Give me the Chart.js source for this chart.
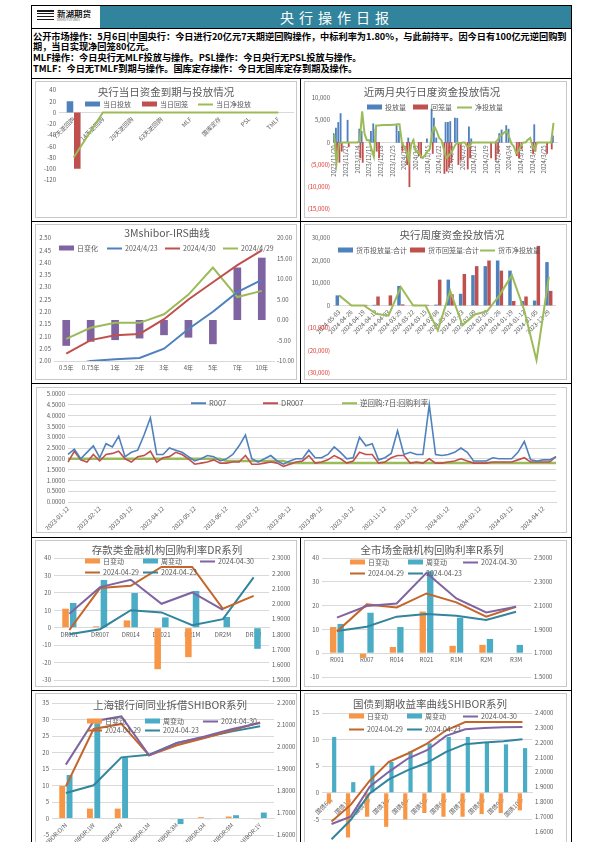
<!DOCTYPE html>
<html lang="zh">
<head>
<meta charset="UTF-8">
<title>央行操作日报</title>
<script src="https://cdn.jsdelivr.net/npm/chart.js@4.4.0/dist/chart.umd.min.js"></script>
<style>
  body { margin:0; width:595px; height:842px; position:relative; overflow:hidden; background:#fff;
         font-family:"Noto Sans CJK SC", "Noto Sans", sans-serif; }
  .abs { position:absolute; }
  .bl { position:absolute; background:#000; }
  .box { position:absolute; border:1px solid #c8c8c8; box-sizing:border-box; }
  .cv { position:absolute; }
  .ttl { position:absolute; transform:translate(-50%,-50%); font-size:10.5px; color:#595959; white-space:nowrap; line-height:1; }
  .lg { position:absolute; transform:translateY(-50%); font-size:7px; color:#595959; white-space:nowrap;
        line-height:1; display:flex; align-items:center; }
  .lg i { display:inline-block; width:15px; margin-right:3px; }
  .bx { height:5px; }
  .ln { height:2px; }
</style>
</head>
<body>

<!-- frame and header -->
<div class="abs" style="left:31px;top:5px;width:541px;height:850px;border:1px solid #000;box-sizing:border-box"></div>
<div class="abs" style="left:100px;top:6px;width:471px;height:22px;background:#31849B"></div>
<div class="abs" style="left:337px;top:17px;transform:translate(-50%,-50%);color:#fff;font-size:14px;letter-spacing:5px;line-height:1;white-space:nowrap">央行操作日报</div>
<div class="abs" style="left:37px;top:10px;width:17px;height:12px;background:repeating-linear-gradient(#1a1a1a 0 1.5px,#fff 1.5px 3px)"></div>
<div class="abs" style="left:57px;top:9px;font-size:8.5px;font-weight:bold;color:#1a1a1a;line-height:1;white-space:nowrap">新湖期货</div>
<div class="abs" style="left:57px;top:19px;font-size:3px;color:#555;line-height:1;white-space:nowrap">XINHU FUTURES</div>
<div class="bl" style="left:31px;top:28px;width:541px;height:1px"></div>

<!-- text -->
<div class="abs" style="left:33px;top:30.5px;font-size:9.2px;line-height:10.7px;font-weight:bold;color:#000;white-space:nowrap">公开市场操作：5月6日|中国央行：今日进行20亿元7天期逆回购操作，中标利率为1.80%，与此前持平。因今日有100亿元逆回购到<br>期，当日实现净回笼80亿元。<br>MLF操作：今日央行无MLF投放与操作。PSL操作：今日央行无PSL投放与操作。<br>TMLF：今日无TMLF到期与操作。国库定存操作：今日无国库定存到期及操作。</div>

<!-- grid lines -->
<div class="bl" style="left:31px;top:78px;width:541px;height:1px"></div>
<div class="bl" style="left:31px;top:221px;width:541px;height:1px"></div>
<div class="bl" style="left:31px;top:383px;width:541px;height:1px"></div>
<div class="bl" style="left:31px;top:537px;width:541px;height:1px"></div>
<div class="bl" style="left:31px;top:690px;width:541px;height:1px"></div>
<div class="bl" style="left:300px;top:78px;width:1px;height:305px"></div>
<div class="bl" style="left:300px;top:537px;width:1px;height:310px"></div>

<!-- chart boxes -->
<div class="box" style="left:35px;top:81px;width:262px;height:137px"></div>
<div class="box" style="left:304px;top:81px;width:263px;height:137px"></div>
<div class="box" style="left:35px;top:224px;width:262px;height:156px"></div>
<div class="box" style="left:304px;top:224px;width:263px;height:156px"></div>
<div class="box" style="left:36px;top:387px;width:531px;height:146px"></div>
<div class="box" style="left:35px;top:540px;width:262px;height:147px"></div>
<div class="box" style="left:304px;top:540px;width:263px;height:147px"></div>
<div class="box" style="left:35px;top:693px;width:262px;height:160px"></div>
<div class="box" style="left:304px;top:693px;width:263px;height:160px"></div>

<div class="cv" style="left:35px;top:81px;width:262px;height:137px"><canvas id="cToday"></canvas></div>
<div class="cv" style="left:304px;top:81px;width:263px;height:137px"><canvas id="cDaily"></canvas></div>
<div class="cv" style="left:35px;top:224px;width:262px;height:156px"><canvas id="cIrs"></canvas></div>
<div class="cv" style="left:304px;top:224px;width:263px;height:156px"><canvas id="cWeek"></canvas></div>
<div class="cv" style="left:36px;top:387px;width:531px;height:146px"><canvas id="cRepo"></canvas></div>
<div class="cv" style="left:35px;top:540px;width:262px;height:147px"><canvas id="cDr"></canvas></div>
<div class="cv" style="left:304px;top:540px;width:263px;height:147px"><canvas id="cR"></canvas></div>
<div class="cv" style="left:35px;top:693px;width:262px;height:152px"><canvas id="cShibor"></canvas></div>
<div class="cv" style="left:304px;top:693px;width:263px;height:160px"><canvas id="cGov"></canvas></div>

<!-- titles -->
<div class="ttl" style="left:166px;top:92px">央行当日资金到期与投放情况</div>
<div class="ttl" style="left:432px;top:92px">近两月央行日度资金投放情况</div>
<div class="ttl" style="left:167px;top:233px">3Mshibor-IRS曲线</div>
<div class="ttl" style="left:452px;top:235px">央行周度资金投放情况</div>
<div class="ttl" style="left:167px;top:550px">存款类金融机构回购利率DR系列</div>
<div class="ttl" style="left:432px;top:550px">全市场金融机构回购利率R系列</div>
<div class="ttl" style="left:170px;top:705px">上海银行间同业拆借SHIBOR系列</div>
<div class="ttl" style="left:430px;top:704px">国债到期收益率曲线SHIBOR系列</div>

<!-- legends -->
<div class="lg" style="left:85px;top:104px"><i class="bx" style="background:#4F81BD"></i>当日投放</div>
<div class="lg" style="left:142px;top:104px"><i class="bx" style="background:#C0504D"></i>当日回笼</div>
<div class="lg" style="left:198px;top:104px"><i class="ln" style="background:#9BBB59"></i>当日净投放</div>

<div class="lg" style="left:367px;top:107px"><i class="bx" style="background:#4F81BD"></i>投放量</div>
<div class="lg" style="left:413px;top:107px"><i class="bx" style="background:#C0504D"></i>回笼量</div>
<div class="lg" style="left:457px;top:107px"><i class="ln" style="background:#9BBB59"></i>净投放量</div>

<div class="lg" style="left:59px;top:248px"><i class="bx" style="background:#8064A2"></i>日变化</div>
<div class="lg" style="left:107px;top:248px"><i class="ln" style="background:#4F81BD"></i>2024/4/23</div>
<div class="lg" style="left:165px;top:248px"><i class="ln" style="background:#C0504D"></i>2024/4/30</div>
<div class="lg" style="left:223px;top:248px"><i class="ln" style="background:#9BBB59"></i>2024/4/29</div>

<div class="lg" style="left:338px;top:250px"><i class="bx" style="background:#4F81BD"></i>货币投放量:合计</div>
<div class="lg" style="left:410px;top:250px"><i class="bx" style="background:#C0504D"></i>货币回笼量:合计</div>
<div class="lg" style="left:480px;top:250px"><i class="ln" style="background:#9BBB59"></i>货币净投放量</div>

<div class="lg" style="left:191px;top:403px;font-size:7.5px"><i class="ln" style="background:#4F81BD"></i>R007</div>
<div class="lg" style="left:263px;top:403px;font-size:7.5px"><i class="ln" style="background:#C0504D"></i>DR007</div>
<div class="lg" style="left:342px;top:403px;font-size:7.5px"><i class="ln" style="background:#9BBB59"></i>逆回购:7日:回购利率</div>

<div class="lg" style="left:85px;top:561px"><i class="bx" style="background:#F79646"></i>日变动</div>
<div class="lg" style="left:143px;top:561px"><i class="bx" style="background:#4BACC6"></i>周变动</div>
<div class="lg" style="left:200px;top:561px"><i class="ln" style="background:#8064A2"></i>2024-04-30</div>
<div class="lg" style="left:85px;top:572px"><i class="ln" style="background:#C4652A"></i>2024-04-29</div>
<div class="lg" style="left:143px;top:572px"><i class="ln" style="background:#31859C"></i>2024-04-23</div>

<div class="lg" style="left:350px;top:562px"><i class="bx" style="background:#F79646"></i>日变动</div>
<div class="lg" style="left:408px;top:562px"><i class="bx" style="background:#4BACC6"></i>周变动</div>
<div class="lg" style="left:463px;top:562px"><i class="ln" style="background:#8064A2"></i>2024-04-30</div>
<div class="lg" style="left:350px;top:573px"><i class="ln" style="background:#C4652A"></i>2024-04-29</div>
<div class="lg" style="left:408px;top:573px"><i class="ln" style="background:#31859C"></i>2024-04-23</div>

<div class="lg" style="left:87px;top:721px"><i class="bx" style="background:#F79646"></i>日变动</div>
<div class="lg" style="left:145px;top:721px"><i class="bx" style="background:#4BACC6"></i>周变动</div>
<div class="lg" style="left:203px;top:721px"><i class="ln" style="background:#8064A2"></i>2024-04-30</div>
<div class="lg" style="left:87px;top:730px"><i class="ln" style="background:#C4652A"></i>2024-04-29</div>
<div class="lg" style="left:145px;top:730px"><i class="ln" style="background:#31859C"></i>2024-04-23</div>

<div class="lg" style="left:349px;top:716px"><i class="bx" style="background:#F79646"></i>日变动</div>
<div class="lg" style="left:407px;top:716px"><i class="bx" style="background:#4BACC6"></i>周变动</div>
<div class="lg" style="left:463px;top:716px"><i class="ln" style="background:#8064A2"></i>2024-04-30</div>
<div class="lg" style="left:349px;top:729px"><i class="ln" style="background:#C4652A"></i>2024-04-29</div>
<div class="lg" style="left:407px;top:729px"><i class="ln" style="background:#31859C"></i>2024-04-23</div>

<script>
// ---------- data ----------
// 央行当日资金到期与投放情况
const todayCats = ['7天逆回购', '14天逆回购', '28天逆回购', '63天逆回购', 'MLF', '国库定存', 'PSL', 'TMLF'];
const todayInject = [20, 0, 0, 0, 0, 0, 0, 0];
const todayDrain = [-100, 0, 0, 0, 0, 0, 0, 0];
const todayNet = [-80, 0, 0, 0, 0, 0, 0, 0];

// 近两月央行日度资金投放情况 (weekdays, 5 per week)
const dailyWeeks = ['2023/11/20', '2023/11/27', '2023/12/4', '2023/12/11', '2023/12/18', '2023/12/25', '2024/1/1',
  '2024/1/8', '2024/1/15', '2024/1/22', '2024/1/29', '2024/2/5', '2024/2/12', '2024/2/19', '2024/2/26',
  '2024/3/4', '2024/3/11', '2024/3/18', '2024/3/25'];
const dailyInject = [
  2000, 3200, 4500, 6500, null, null, 5000, null, null, null,
  null, 3000, 2500, null, null, null, 2500, 4200, 3000, null,
  null, null, null, null, null, null, null, 3800, 2500, null,
  null, null, 1000, null, 500, null, null, null, null, null,
  800, null, 7500, 5500, 1000, null, null, null, 4500, 4500,
  4700, null, 5500, 5400, null, null, null, null, 3500, 800,
  null, null, null, null, null, null, null, null, null, null,
  null, 2000, 2800, null, 3800, 3000, null, null, null, null,
  null, null, null, null, null, null, 4000, null, null, null,
  null, null, null, null, 1500, 2500];
const dailyDrain = [
  null, -3000, -4500, -2000, null, null, -1000, null, null, null,
  null, -3500, -4500, null, null, null, null, null, -2000, -3500,
  null, null, null, null, null, null, null, null, null, -2000,
  null, -5000, -10000, null, null, null, -3000, -3500, null, null,
  null, null, -2500, null, null, null, null, -7000, -6500, -5500,
  -4500, null, null, -5000, -4000, null, null, -6000, -3500, null,
  null, null, null, null, null, null, null, -3500, null, -4000,
  -2500, null, null, null, null, null, null, null, -3000, -3500,
  -1500, null, null, null, null, -2500, -2000, null, null, null,
  null, -2500, null, -1500, null, null];
const dailyNet = [
  1700, -4700, -500, 0, 0, 0, 0, 0, 0, 0,
  0, 500, 7000, 2000, 500, 500, -1500, -3200, 3800, 3800,
  3850, 3900, 3900, 3900, 3900, 3950, 4000, 4100, 4100, 0,
  -1000, -2000, -4300, -500, 500, -2200, -2000, -3000, -3500, -2800,
  -2000, -1500, 2200, 3500, 2500, 1000, 500, -1500, -3500, -3000,
  -2500, -1500, -500, 0, -300, 0, 0, -900, -900, 0,
  0, 0, 0, 0, 0, 0, 0, 0, 0, 0,
  500, 1400, 1800, 2300, 2500, 1200, -300, -900, -2400, -2000,
  -800, 0, 0, 600, 1000, -800, -1700, 0, 0, 0,
  0, 0, 0, 0, 4400, 0];

// 3Mshibor-IRS曲线
const irsTenors = ['0.5年', '0.75年', '1年', '2年', '3年', '4年', '5年', '7年', '10年'];
const irsChange = [-6.3, -5.3, -4.9, -4.5, -3.7, -4.3, -5.9, 12.8, 15.2];
const irs0423 = [1.98, 2.00, 2.007, 2.012, 2.05, 2.13, 2.20, 2.28, 2.33];
const irs0430 = [2.03, 2.085, 2.105, 2.11, 2.17, 2.25, 2.32, 2.39, 2.45];
const irs0429 = [2.09, 2.135, 2.155, 2.155, 2.19, 2.27, 2.38, 2.26, 2.285];

// 央行周度资金投放情况
const weekDates = ['2024-05-03', '2024-04-26', '2024-04-19', '2024-04-12', '2024-04-03', '2024-03-29', '2024-03-22',
  '2024-03-15', '2024-03-08', '2024-03-01', '2024-02-23', '2024-02-09', '2024-02-02', '2024-01-26', '2024-01-19',
  '2024-01-12', '2024-01-05', '2023-12-29'];
const weekInject = [4500, 0, 0, 300, 0, 8700, 0, 0, 400, 11500, 5200, 13500, 17500, 20000, 15500, 2000, 2200, 19300];
const weekDrain = [0, 0, 300, 4000, 4500, 500, 300, 300, 11500, 5000, 14000, 17500, 20000, 15500, 2000, 4000, 26500, 6500];
const weekNet = [4500, 0, 0, -3700, -4500, 8200, 0, 0, -11000, 6500, -8800, -4000, -2500, 4500, 13500, -2000, -24300, 12800];

// R007 / DR007 / 逆回购7日 (about 5 points per month)
const repoMonths = ['2023-01-12', '2023-02-12', '2023-03-12', '2023-04-12', '2023-05-12', '2023-06-12', '2023-07-12',
  '2023-08-12', '2023-09-12', '2023-10-12', '2023-11-12', '2023-12-12', '2024-01-12', '2024-02-12', '2024-03-12',
  '2024-04-12'];
const r007 = [
  2.20, 2.45, 2.00, 2.30, 2.60,
  2.05, 2.70, 2.55, 3.05, 2.10,
  2.30, 2.40, 3.10, 3.90, 2.20,
  2.20, 2.50, 2.40, 2.30, 2.10,
  1.90, 2.00, 2.15, 2.10, 1.90,
  2.00, 2.20, 2.60, 3.10, 2.00,
  1.85, 2.00, 2.15, 1.90, 1.75,
  1.90, 2.00, 2.00, 2.40, 2.05,
  2.05, 2.20, 2.55, 2.30, 2.00,
  2.05, 3.00, 2.60, 2.70, 1.95,
  2.05, 2.25, 3.30, 2.20, 2.30,
  2.20, 2.20, 4.50, 2.20, 2.15,
  2.20, 2.30, 2.50, 2.30, 1.90,
  1.90, 1.90, 2.05, 2.00, 2.00,
  2.00, 2.30, 2.80, 1.95, 1.90,
  1.95, 1.95, 2.10];
const dr007 = [
  1.85, 2.35, 1.95, 1.85, 2.20,
  1.90, 2.20, 2.25, 2.35, 2.00,
  1.85, 2.10, 2.15, 2.35, 1.85,
  2.05, 2.10, 2.30, 2.20, 2.00,
  1.75, 1.80, 1.85, 1.95, 1.80,
  1.80, 1.85, 1.85, 2.15, 1.75,
  1.75, 1.80, 1.85, 1.80, 1.65,
  1.75, 1.85, 1.90, 2.15, 1.80,
  1.85, 1.95, 2.15, 2.00, 1.80,
  1.90, 2.30, 2.20, 2.20, 1.80,
  1.85, 2.05, 2.15, 2.15, 1.80,
  1.85, 1.80, 2.00, 1.80, 1.80,
  1.85, 1.90, 2.00, 1.90, 1.80,
  1.80, 1.80, 1.85, 1.85, 1.85,
  1.85, 1.95, 2.05, 1.85, 1.85,
  1.85, 1.85, 2.10];
const rr7 = [
  2.0, 2.0, 2.0, 2.0, 2.0,
  2.0, 2.0, 2.0, 2.0, 2.0,
  2.0, 2.0, 2.0, 2.0, 2.0,
  2.0, 2.0, 2.0, 2.0, 2.0,
  2.0, 2.0, 2.0, 2.0, 2.0,
  1.9, 1.9, 1.9, 1.9, 1.9,
  1.9, 1.9, 1.9, 1.9, 1.9,
  1.8, 1.8, 1.8, 1.8, 1.8,
  1.8, 1.8, 1.8, 1.8, 1.8,
  1.8, 1.8, 1.8, 1.8, 1.8,
  1.8, 1.8, 1.8, 1.8, 1.8,
  1.8, 1.8, 1.8, 1.8, 1.8,
  1.8, 1.8, 1.8, 1.8, 1.8,
  1.8, 1.8, 1.8, 1.8, 1.8,
  1.8, 1.8, 1.8, 1.8, 1.8,
  1.8, 1.8, 1.8];

// DR系列
const drCats = ['DR001', 'DR007', 'DR014', 'DR021', 'DR1M', 'DR2M', 'DR3M'];
const drDay = [10.9, 0.8, 4.2, -23.8, -16.9, 0, 0];
const drWeek = [14.2, 27.4, 19.9, 5.9, 21.1, 6.2, -12.1];
const dr0430 = [1.934, 2.109, 2.157, 2.0, 2.074, 1.96, null];
const dr0429 = [1.828, 2.103, 2.118, 2.241, 2.241, 1.967, 2.052];
const dr0423 = [1.80, 1.833, 1.958, 1.943, 1.859, 1.899, 2.173];

// R系列
const rCats = ['R001', 'R007', 'R014', 'R021', 'R1M', 'R2M', 'R3M'];
const rDay = [11.0, -1.9, 2.6, 17.5, 3.1, 3.5, 0];
const rWeek = [12.3, 17.0, 11.0, 34.4, 14.9, 6.0, 3.5];
const r0430 = [1.999, 2.096, 2.118, 2.375, 2.16, 2.043, 2.09];
const r0429 = [1.882, 2.11, 2.085, 2.202, 2.127, 2.007, 2.09];
const r0423 = [1.887, 1.923, 2.007, 2.029, 2.015, 1.979, 2.049];

// SHIBOR系列
const shCats = ['SHIBOR:O/N', 'SHIBOR:1W', 'SHIBOR:2W', 'SHIBOR:1M', 'SHIBOR:3M', 'SHIBOR:6M', 'SHIBOR:9M', 'SHIBOR:1Y'];
const shDay = [9.9, 3.0, 3.0, -0.2, -0.2, 0.4, 0.6, -0.2];
const shWeek = [13.2, 28.9, 18.5, 0, -1.7, -0.2, 1.0, 1.8];
const sh0430 = [1.92, 2.117, 2.139, 1.962, 2.018, 2.048, 2.082, 2.109];
const sh0429 = [1.821, 2.082, 2.105, 1.962, 2.008, 2.041, 2.076, 2.112];
const sh0423 = [1.791, 1.826, 1.953, 1.965, 2.018, 2.044, 2.071, 2.094];

// 国债到期收益率
const govCats = ['国债6月', '国债1年', '国债2年', '国债3年', '国债4年', '国债5年', '国债6年', '国债7年', '国债8年', '国债9年', '国债10年'];
const govDay = [-2.0, -8.4, -4.5, -6.4, -5.0, -3.8, -4.5, -4.5, -4.0, -3.8, -3.3];
const govWeek = [10.5, 2.0, 5.1, 5.8, 7.8, 9.3, 10.5, 10.5, 9.5, 9.1, 8.4];
const gov0430 = [1.649, 1.699, 1.901, 2.002, 2.092, 2.148, 2.245, 2.29, 2.299, 2.303, 2.306];
const gov0429 = [1.665, 1.778, 1.942, 2.07, 2.126, 2.193, 2.283, 2.339, 2.339, 2.339, 2.339];
const gov0423 = [1.546, 1.676, 1.856, 1.951, 2.013, 2.063, 2.137, 2.189, 2.20, 2.209, 2.222];

// ---------- helpers ----------
const GRAY = '#595959', GRID = '#d9d9d9';
const BLUE = '#4F81BD', RED = '#C0504D', GREEN = '#9BBB59', PURPLE = '#8064A2';
const ORANGE = '#F79646', AQUA = '#4BACC6', BROWN = '#C4652A', TEAL = '#31859C';

Chart.defaults.font.family = '"Noto Sans CJK SC", "Noto Sans", sans-serif';
Chart.defaults.font.size = 6;
Chart.defaults.color = GRAY;

// fixed axis sizes so the plot areas land where the reference has them
function fixY(w) { return s => { s.width = w; s.paddingTop = 0; s.paddingBottom = 0; }; }
function fixX(h) { return s => { s.height = h; s.paddingLeft = 0; s.paddingRight = 0; }; }

const int = v => v;
const dec = n => v => Number(v).toFixed(n);
const fmtK = v => v < 0 ? '(' + (-v).toLocaleString('en-US') + ')' : v.toLocaleString('en-US');
const redNeg = c => (c.tick && c.tick.value < 0) ? '#E0342B' : GRAY;

function valueAxis(pos, min, max, step, width, fmt, grid) {
  return {
    position: pos, min: min, max: max, afterFit: fixY(width),
    border: { display: false },
    grid: { display: !!grid, color: GRID, drawTicks: false },
    ticks: { stepSize: step, padding: 3, callback: fmt }
  };
}
function catAxis(pos, height, rot) {
  return {
    position: pos, afterFit: fixX(height),
    border: { display: true, color: GRID },
    grid: { display: false, drawTicks: false },
    ticks: { autoSkip: false, minRotation: rot, maxRotation: rot, padding: 3 }
  };
}
function bar(label, data, color, axis) {
  return { type: 'bar', label: label, data: data, backgroundColor: color, yAxisID: axis || 'y', order: 2 };
}
function line(label, data, color, axis, width) {
  return { type: 'line', label: label, data: data, borderColor: color, backgroundColor: color,
           borderWidth: width || 2, pointRadius: 0, tension: 0, yAxisID: axis || 'y', order: 1 };
}
function draw(id, labels, datasets, scales, padding, barOpts) {
  return new Chart(document.getElementById(id), {
    type: 'bar',
    data: { labels: labels, datasets: datasets },
    options: {
      animation: false, responsive: true, maintainAspectRatio: false,
      layout: { padding: padding },
      datasets: { bar: barOpts || {} },
      plugins: { legend: { display: false }, tooltip: { enabled: false } },
      scales: scales
    }
  });
}

// ---------- charts ----------
draw('cToday', todayCats,
  [bar('当日投放', todayInject, BLUE), bar('当日回笼', todayDrain, RED), line('当日净投放', todayNet, GREEN)],
  { x: catAxis({ y: 0 }, 0, 45), y: valueAxis('left', -120, 40, 20, 20, int) },
  { left: 4, right: 4, top: 9, bottom: 38 },
  { categoryPercentage: 0.5, barPercentage: 0.9 });

const dailyLabels = dailyNet.map((_, i) => i % 5 === 0 ? dailyWeeks[i / 5] : '');
const dailyY = valueAxis('left', -15000, 10000, 5000, 27, fmtK);
dailyY.ticks.color = redNeg;
draw('cDaily', dailyLabels,
  [bar('投放量', dailyInject, BLUE), bar('回笼量', dailyDrain, RED), line('净投放量', dailyNet, GREEN)],
  { x: catAxis({ y: 0 }, 0, 90), y: dailyY },
  { left: 2, right: 10, top: 17, bottom: 9 },
  { categoryPercentage: 1, barPercentage: 1 });

draw('cIrs', irsTenors,
  [bar('日变化', irsChange, PURPLE, 'y1'),
   line('2024/4/23', irs0423, BLUE), line('2024/4/30', irs0430, RED), line('2024/4/29', irs0429, GREEN)],
  { x: catAxis('bottom', 14, 0),
    y: valueAxis('left', 2.0, 2.5, 0.05, 16, dec(2)),
    y1: valueAxis('right', -10, 20, 5, 20, dec(2)) },
  { left: 3, right: 3, top: 14, bottom: 5 },
  { categoryPercentage: 0.35, barPercentage: 0.9 });

const weekY = valueAxis('left', -30000, 30000, 10000, 27, fmtK);
weekY.ticks.color = redNeg;
draw('cWeek', weekDates,
  [bar('货币投放量:合计', weekInject, BLUE), bar('货币回笼量:合计', weekDrain, RED), line('货币净投放量', weekNet, GREEN)],
  { x: catAxis({ y: 0 }, 0, 45), y: weekY },
  { left: 2, right: 12, top: 14, bottom: 7 },
  { categoryPercentage: 0.6, barPercentage: 0.95 });

const repoLabels = r007.map((_, i) => i % 5 === 0 ? repoMonths[i / 5] : '');
const repoX = catAxis('bottom', 28, 45);
repoX.offset = false;
draw('cRepo', repoLabels,
  [line('R007', r007, BLUE, 'y', 1.6), line('DR007', dr007, RED, 'y', 1.6), line('逆回购:7日:回购利率', rr7, GREEN, 'y', 2.5)],
  { x: repoX, y: valueAxis('left', 0, 5, 0.5, 29, dec(4), true) },
  { left: 3, right: 11, top: 7, bottom: 3 });

draw('cDr', drCats,
  [bar('日变动', drDay, ORANGE), bar('周变动', drWeek, AQUA),
   line('2024-04-30', dr0430, PURPLE, 'y1'), line('2024-04-29', dr0429, BROWN, 'y1'), line('2024-04-23', dr0423, TEAL, 'y1')],
  { x: catAxis({ y: 0 }, 0, 0),
    y: valueAxis('left', -30, 40, 10, 16, int, true),
    y1: valueAxis('right', 1.5, 2.3, 0.1, 24, dec(4)) },
  { left: 3, right: 4, top: 18, bottom: 7 },
  { categoryPercentage: 0.5, barPercentage: 0.85 });

draw('cR', rCats,
  [bar('日变动', rDay, ORANGE), bar('周变动', rWeek, AQUA),
   line('2024-04-30', r0430, PURPLE, 'y1'), line('2024-04-29', r0429, BROWN, 'y1'), line('2024-04-23', r0423, TEAL, 'y1')],
  { x: catAxis({ y: 0 }, 0, 0),
    y: valueAxis('left', -10, 40, 10, 15, int, true),
    y1: valueAxis('right', 1.5, 2.5, 0.2, 30, dec(4)) },
  { left: 3, right: 6, top: 18, bottom: 10 },
  { categoryPercentage: 0.5, barPercentage: 0.85 });

draw('cShibor', shCats,
  [bar('日变动', shDay, ORANGE), bar('周变动', shWeek, AQUA),
   line('2024-04-30', sh0430, PURPLE, 'y1'), line('2024-04-29', sh0429, BROWN, 'y1'), line('2024-04-23', sh0423, TEAL, 'y1')],
  { x: catAxis({ y: 0 }, 0, 45),
    y: valueAxis('left', -5, 35, 5, 15, int, true),
    y1: valueAxis('right', 1.6, 2.2, 0.1, 21, dec(4)) },
  { left: 2, right: 2, top: 10, bottom: 10 },
  { categoryPercentage: 0.53, barPercentage: 0.8 });

draw('cGov', govCats,
  [bar('日变动', govDay, ORANGE), bar('周变动', govWeek, AQUA),
   line('2024-04-30', gov0430, PURPLE, 'y1'), line('2024-04-29', gov0429, BROWN, 'y1'), line('2024-04-23', gov0423, TEAL, 'y1')],
  { x: catAxis({ y: 0 }, 0, 45),
    y: valueAxis('left', -10, 15, 5, 15, int, true),
    y1: valueAxis('right', 1.5, 2.4, 0.1, 30, dec(4)) },
  { left: 3, right: 5, top: 20, bottom: 7 },
  { categoryPercentage: 0.55, barPercentage: 0.8 });
</script>
</body>
</html>
